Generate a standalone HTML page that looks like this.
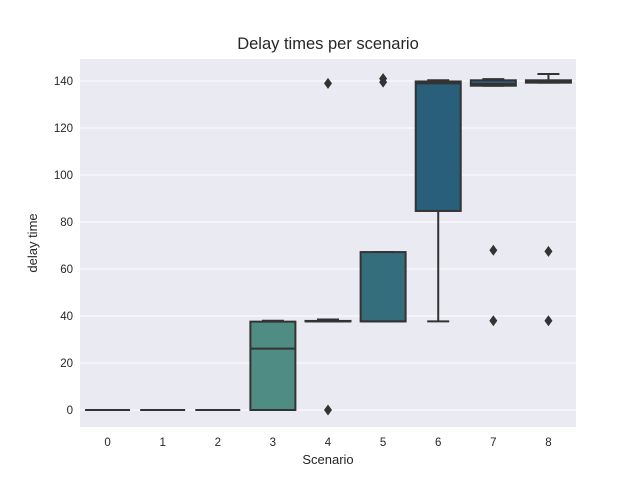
<!DOCTYPE html>
<html><head><meta charset="utf-8"><style>body{margin:0;background:#fff}svg{font-family:"Liberation Sans","DejaVu Sans",sans-serif}</style></head>
<body>
<svg id="c" width="640" height="480" xmlns="http://www.w3.org/2000/svg"></svg>
<script>
const categories=["0","1","2","3","4","5","6","7","8"];
const q1=[0,0,0,0,37.7,37.7,84.7,138,139.3];
const medians=[0,0,0,26.1,37.7,37.7,139,138.7,139.6];
const q3=[0,0,0,37.6,37.9,67.2,139.8,140.3,140.3];
const whiskLo=[0,0,0,0,37.7,37.7,37.7,138,139.3];
const whiskHi=[0,0,0,38,38.5,67.2,140.3,140.8,143];
const outliers=[[],[],[],[],[139,0],[141,139.5],[],[68,38],[67.5,38]];
const yTicks=[0,20,40,60,80,100,120,140];
const colors=["#5fa08f","#58988c","#529288","#4e8c84","#3d7d82","#346e7d","#2a5f7b","#2c5a7a","#2d5378"];
const svg=document.getElementById('c');const NS="http://www.w3.org/2000/svg";
const L=80,R=576,T=59,B=427;
const y=v=>410-v*2.35;
const bw=(R-L)/categories.length;
const x=i=>L+bw*(i+0.5);
function el(t,a,p){const e=document.createElementNS(NS,t);for(const k in a)e.setAttribute(k,a[k]);(p||svg).appendChild(e);return e;}
const bg=el('rect',{x:L,y:T,width:R-L,height:B-T,fill:'#eaeaf2'});


yTicks.forEach(v=>{
 const g=el('line',{x1:L,x2:R,y1:y(v),y2:y(v),stroke:'#fff','stroke-width':1});
 
 
 const t=el('text',{x:L-7,y:y(v)+4,'text-anchor':'end','font-size':11.5,fill:'#262626'});t.textContent=v;
 
 
});
categories.forEach((c,i)=>{
 const t=el('text',{x:x(i),y:446,'text-anchor':'middle','font-size':11.5,fill:'#262626'});t.textContent=c;
 
 
 const g=el('g',{});
 
 
 const cx=x(i),hw=22.5,st='#333',sw=2;
 el('line',{x1:cx,x2:cx,y1:y(q1[i]),y2:y(whiskLo[i]),stroke:st,'stroke-width':sw},g);
 el('line',{x1:cx,x2:cx,y1:y(q3[i]),y2:y(whiskHi[i]),stroke:st,'stroke-width':sw},g);
 el('line',{x1:cx-11,x2:cx+11,y1:y(whiskLo[i]),y2:y(whiskLo[i]),stroke:st,'stroke-width':sw},g);
 el('line',{x1:cx-11,x2:cx+11,y1:y(whiskHi[i]),y2:y(whiskHi[i]),stroke:st,'stroke-width':sw},g);
 el('rect',{x:cx-hw,y:y(q3[i]),width:hw*2,height:Math.max(0,y(q1[i])-y(q3[i])),fill:colors[i],stroke:st,'stroke-width':sw},g);
 el('line',{x1:cx-hw,x2:cx+hw,y1:y(medians[i]),y2:y(medians[i]),stroke:st,'stroke-width':sw},g);
 outliers[i].forEach(v=>{
  const d=el('path',{d:`M${cx} ${y(v)-5.5}L${cx+4} ${y(v)}L${cx} ${y(v)+5.5}L${cx-4} ${y(v)}Z`,fill:'#333'},g);
  
  
 });
});
const tt=el('text',{x:328,y:49,'text-anchor':'middle','font-size':16.5,fill:'#262626'});tt.textContent='Delay times per scenario';


const xt=el('text',{x:328,y:464,'text-anchor':'middle','font-size':13,fill:'#262626'});xt.textContent='Scenario';


const yt=el('text',{x:0,y:0,'text-anchor':'middle','font-size':13,fill:'#262626',transform:`translate(37,243) rotate(-90)`});yt.textContent='delay time';


</script>
</body></html>
